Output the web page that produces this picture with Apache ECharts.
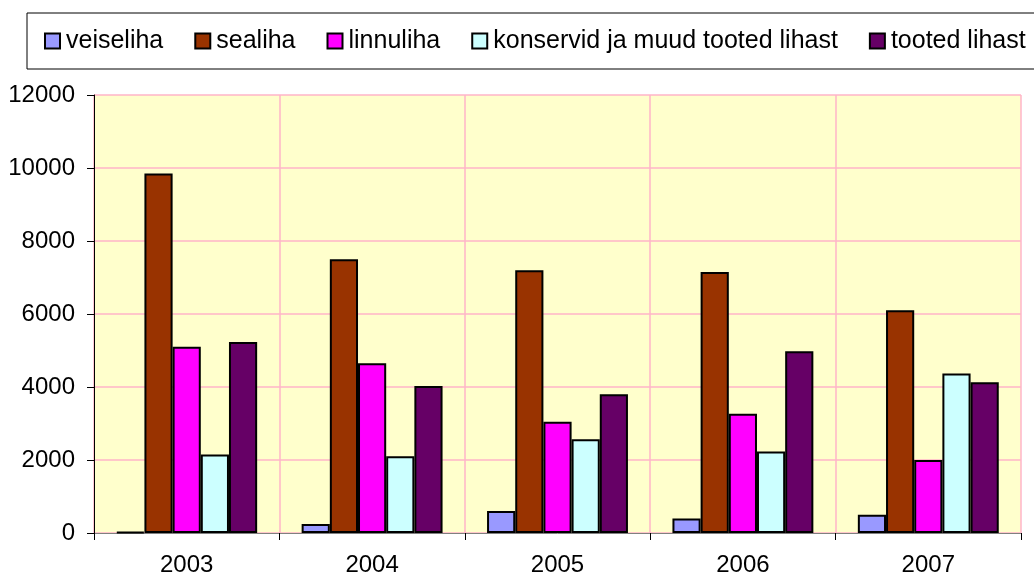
<!DOCTYPE html>
<html lang="et" style="height: 100%">

<head>
  <meta charset="utf-8">
</head>

<body style="height: 100%; margin: 0; background: #fff">
  <div id="container" style="width: 1034px; height: 575px"></div>

  <script type="text/javascript" src="https://fastly.jsdelivr.net/npm/echarts@6.0.0/dist/echarts.min.js"></script>
  <script type="text/javascript">
    // aastad
    var years = ['2003', '2004', '2005', '2006', '2007'];

    // andmed seeriate kaupa
    var veiseliha = [30, 250, 600, 400, 500];
    var sealiha = [9850, 7500, 7200, 7150, 6100];
    var linnuliha = [5100, 4650, 3050, 3270, 2000];
    var konservid = [2150, 2100, 2570, 2230, 4370];
    var tootedLihast = [5230, 4030, 3800, 4980, 4130];

    var seriesNames = ['veiseliha', 'sealiha', 'linnuliha', 'konservid ja muud tooted lihast', 'tooted lihast'];
    var seriesData = [veiseliha, sealiha, linnuliha, konservid, tootedLihast];
    var colors = ['#9999FF', '#993300', '#FF00FF', '#CCFFFF', '#660066'];

    var dom = document.getElementById('container');
    var myChart = echarts.init(dom, null, {
      renderer: 'canvas'
    });

    var font = 'Arial, "Liberation Sans", sans-serif';

    var option = {
      animation: false,
      color: colors,
      legend: {
        data: seriesNames,
        left: 27,
        top: 13,
        width: 1060,
        padding: [14, 16, 14, 17],
        borderColor: '#000',
        borderWidth: 1,
        itemWidth: 15,
        itemHeight: 15,
        itemGap: 31,
        icon: 'rect',
        itemStyle: { borderColor: '#000', borderWidth: 2 },
        textStyle: { fontFamily: font, fontSize: 25, color: '#000', lineHeight: 28, padding: [0, 0, 0, 1] }
      },
      grid: {
        left: 94,
        right: 13,
        top: 95,
        bottom: 42,
        outerBoundsMode: 'none',
        containLabel: false,
        show: true,
        backgroundColor: '#FFFFCC',
        borderWidth: 0
      },
      xAxis: {
        type: 'category',
        data: years,
        axisLine: { lineStyle: { color: '#808080', width: 1 } },
        axisTick: { show: true, length: 7, lineStyle: { color: '#000' } },
        axisLabel: { fontFamily: font, fontSize: 24, color: '#000', margin: 20 },
        splitLine: { show: true, lineStyle: { color: '#FFB4C8', width: 1.5 } }
      },
      yAxis: {
        type: 'value',
        min: 0,
        max: 12000,
        interval: 2000,
        axisLine: { show: true, lineStyle: { color: '#000', width: 1 } },
        axisTick: { show: true, length: 7, lineStyle: { color: '#000' } },
        axisLabel: {
          fontFamily: font, fontSize: 24, color: '#000', margin: 19,
          formatter: function (v) { return String(v); }
        },
        splitLine: { show: true, lineStyle: { color: '#FFB4C8', width: 1.5 } }
      },
      series: seriesNames.map(function (name, i) {
        return {
          name: name,
          type: 'bar',
          data: seriesData[i],
          barGap: '0%',
          barCategoryGap: '24%',
          itemStyle: { color: colors[i], borderColor: '#000', borderWidth: 2 }
        };
      })
    };

    myChart.setOption(option);
    window.addEventListener('resize', myChart.resize);
  </script>
</body>

</html>
